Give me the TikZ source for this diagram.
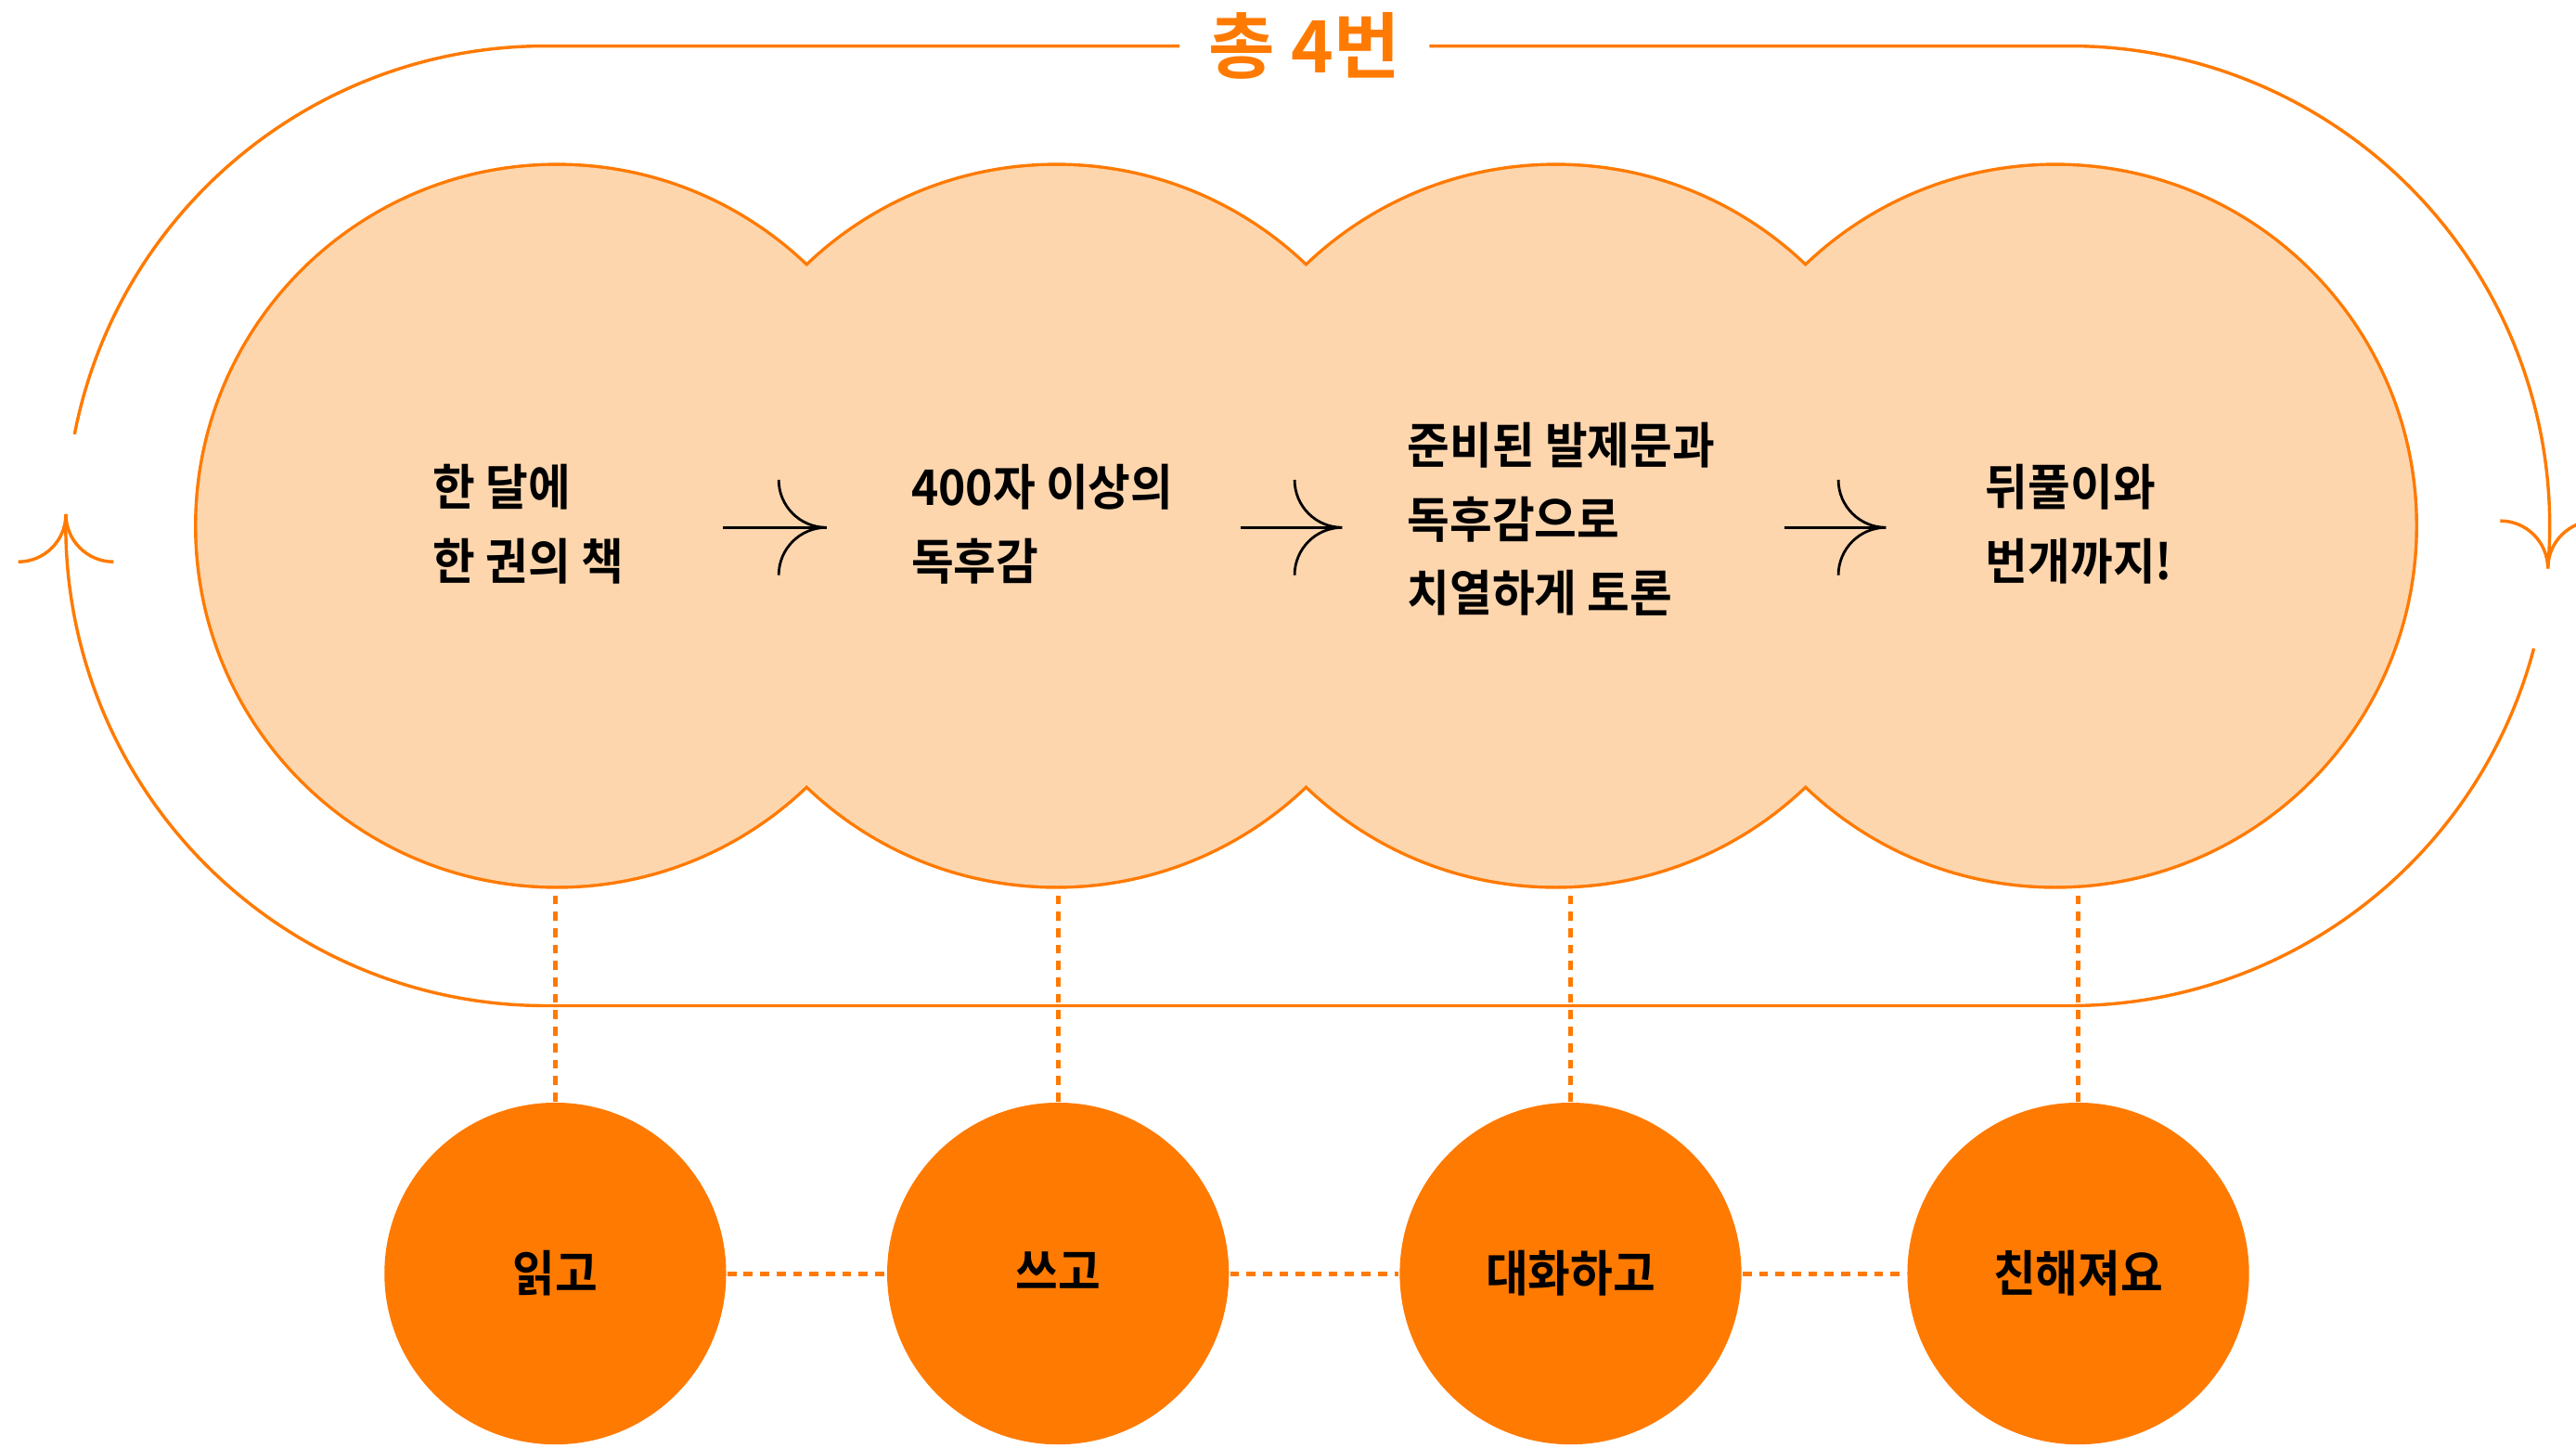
\documentclass[tikz,border=0pt]{standalone}
\usepackage{fontspec}
\newfontfamily\kofont[FakeStretch=0.94,BoldFont={Noto Sans CJK KR Bold}]{Noto Sans CJK KR}
\newfontfamily\kotitle[BoldFont={Noto Sans CJK KR Bold}]{Noto Sans CJK KR}
\definecolor{clubOrange}{RGB}{255,122,0}
\definecolor{clubPeach}{RGB}{253,214,174}
\newcommand{\barbTip}[3]{%%
  %% Two quarter arcs that meet at the tip #1, turned by #2.
  \draw[#3,shift={(#1)},rotate=#2]
    (-\barbR,\barbR) arc[start angle=180,end angle=270,radius=\barbR]
    (-\barbR,-\barbR) arc[start angle=180,end angle=90,radius=\barbR];
}

\begin{document}
\begin{tikzpicture}[%%
  loopStyle/.style={-,clubOrange,line width=0.55pt},%%
  dotStyle/.style={-,clubOrange,line width=0.8pt,dash pattern=on 0.055cm off 0.045cm},%%
  bigStyle/.style={circle,draw=clubOrange,fill=clubPeach,line width=1.1pt,minimum size=4.38cm,inner sep=0pt},%%
  smallStyle/.style={circle,fill=clubOrange,minimum size=2.08cm,inner sep=0pt,font=\kofont\bfseries\fontsize{8.5}{10}\selectfont},%%
  textStyle/.style={anchor=west,align=left,inner sep=0pt,font=\kofont\bfseries\fontsize{8.5}{12.76}\selectfont},%%
  titleStyle/.style={text=clubOrange,inner xsep=0.17cm,inner ysep=0pt,font=\kotitle\bfseries\fontsize{12.5}{15}\selectfont},%%
  arrowStyle/.style={-,black,line width=0.45pt}
]
\useasboundingbox (0,0) rectangle (15.68,-8.81);
%%
%% The loop round the circles.
\pgfmathsetmacro{\loopR}{2.92}
\pgfmathsetmacro{\barbR}{0.29}
\coordinate (leftHub) at (3.32,-3.20);
\coordinate (rightHub) at (12.60,-3.20);
\coordinate (topL) at (3.32,-0.28);
\coordinate (topR) at (12.60,-0.28);
\coordinate (botL) at (3.32,-6.12);
\coordinate (gapR) at ([shift={(-14.8:\loopR)}]rightHub);
\node[titleStyle] (title) at (7.94,-0.28) {총 4번};
\draw[loopStyle] (title.west) -- (topL) arc[start angle=90,end angle=169,radius=\loopR];
\draw[loopStyle] (title.east) -- (topR) arc[start angle=90,end angle=-5.1,radius=\loopR] coordinate (tipR);
\draw[loopStyle] (gapR) arc[start angle=-14.8,end angle=-90,radius=\loopR]
  -- (botL) arc[start angle=270,end angle=178.6,radius=\loopR] coordinate (tipL);
\barbTip{tipL}{90}{loopStyle}
\barbTip{tipR}{-90}{loopStyle}
%%
%% The four steps at the bottom.
\foreach \dotName/\x/\word in {readDot/3.38/읽고,writeDot/6.44/쓰고,talkDot/9.56/대화하고,closeDot/12.65/친해져요}
  \node[smallStyle] (\dotName) at (\x,-7.75) {\raisebox{0.035cm}{\word}};
\draw[dotStyle] (readDot.east) -- (writeDot.west);
\draw[dotStyle] (writeDot.east) -- (talkDot.west);
\draw[dotStyle] (talkDot.east) -- (closeDot.west);
%%
%% The four big circles.
\foreach \bigName/\x in {read/3.39,write/6.43,talk/9.47,close/12.51}
  \node[bigStyle] (\bigName) at (\x,-3.20) {};
\foreach \bigName/\dotName in {read/readDot,write/writeDot,talk/talkDot,close/closeDot}
  \draw[dotStyle] (\dotName.north) -- (\dotName.north |- \bigName.south);
\foreach \bigName in {read,write,talk,close}
  \fill[clubPeach] (\bigName.center) circle[radius=2.19];
%%
%% Texts in the circles.
\node[textStyle] (readText) at (2.63,-3.19) {한 달에\\한 권의 책};
\node[textStyle] (writeText) at (5.54,-3.19) {400자 이상의\\독후감};
\node[textStyle] (talkText) at (8.56,-3.16) {준비된 발제문과\\독후감으로\\치열하게 토론};
\node[textStyle] (closeText) at (12.08,-3.19) {뒤풀이와\\번개까지!};
%%
%% Arrows between the texts.
\foreach \s/\e [count=\i] in {4.40/5.03,7.55/8.17,10.86/11.48} {
  \coordinate (stepStart\i) at (\s,-3.21);
  \coordinate (stepEnd\i) at (\e,-3.21);
  \draw[arrowStyle] (stepStart\i) -- (stepEnd\i);
  \barbTip{stepEnd\i}{0}{arrowStyle}
}
\end{tikzpicture}
\end{document}
